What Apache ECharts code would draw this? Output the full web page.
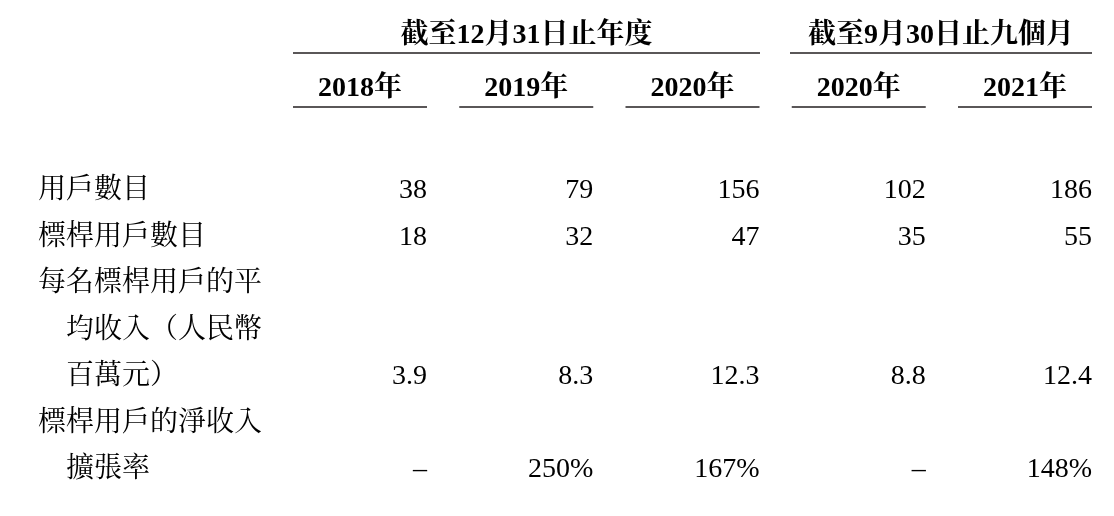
<!DOCTYPE html>
<html><head><meta charset="utf-8">
<script src="https://cdn.jsdelivr.net/npm/echarts@6/dist/echarts.min.js"></script>
<style>html,body{margin:0;background:#fff}#c{width:1114px;height:516px}</style>
</head><body><div id="c"></div>
<script>
const groupHeaders = ['截至12月31日止年度', '截至9月30日止九個月'];
const columns = ['2018年', '2019年', '2020年', '2020年', '2021年'];
const rowLabels = [['用戶數目'], ['標桿用戶數目'], ['每名標桿用戶的平', '均收入（人民幣', '百萬元）'], ['標桿用戶的淨收入', '擴張率']];
const users = ['38', '79', '156', '102', '186'];
const benchmarkUsers = ['18', '32', '47', '35', '55'];
const avgRevenue = ['3.9', '8.3', '12.3', '8.8', '12.4'];
const netExpansion = ['–', '250%', '167%', '–', '148%'];
const rowValues = [users, benchmarkUsers, avgRevenue, netExpansion];

const FONT = '"Liberation Serif","Noto Serif CJK TC","Noto Sans CJK TC",serif';
const FS = 28;
const colRight = i => 427 + 166.25 * i, colW = 134, lineH = 46.5, top0 = 191;
const txt = (x, y, s, o) => Object.assign({type:'text', x, y, style:Object.assign({text:s, font:FS+'px '+FONT, fill:'#000', textVerticalAlign:'middle'}, o||{})});
const ln = (x1, x2, y) => ({type:'line', shape:{x1, y1:y, x2, y2:y}, style:{stroke:'#231f20', lineWidth:1.3}});
const g = [];
g.push(txt((293+760)/2, 36, groupHeaders[0], {textAlign:'center', font:'bold '+FS+'px '+FONT}), ln(293, 760, 53));
g.push(txt((790+1092)/2, 36, groupHeaders[1], {textAlign:'center', font:'bold '+FS+'px '+FONT}), ln(790, 1092, 53));
columns.forEach((c, i) => { const r = colRight(i); g.push(txt(r - colW/2, 89, c, {textAlign:'center', font:'bold '+FS+'px '+FONT}), ln(r - colW, r, 107)); });
const rowLine = [0, 1, 4, 6];
rowLabels.forEach((ls, k) => {
  const start = rowLine[k] - ls.length + 1;
  ls.forEach((s, j) => g.push(txt(j === 0 ? 38 : 66, top0 + lineH * (start + j), s)));
});
const data = [];
rowValues.forEach((vals, k) => vals.forEach((v, i) => data.push({value:[i, rowLine[k]], label:{formatter:v}})));
const chart = echarts.init(document.getElementById('c'));
chart.setOption({
  animation:false,
  grid:{left:427, right:22, top:top0, bottom:516 - (top0 + 6*lineH)},
  xAxis:{type:'value', min:0, max:4, show:false},
  yAxis:{type:'value', min:0, max:6, inverse:true, show:false},
  series:[{type:'scatter', symbolSize:0, itemStyle:{opacity:1}, emphasis:{disabled:true}, data,
    label:{show:true, position:'inside', align:'right', verticalAlign:'middle', opacity:1, fontFamily:FONT, fontSize:FS, color:'#000'}}],
  graphic:g
});
</script></body></html>
